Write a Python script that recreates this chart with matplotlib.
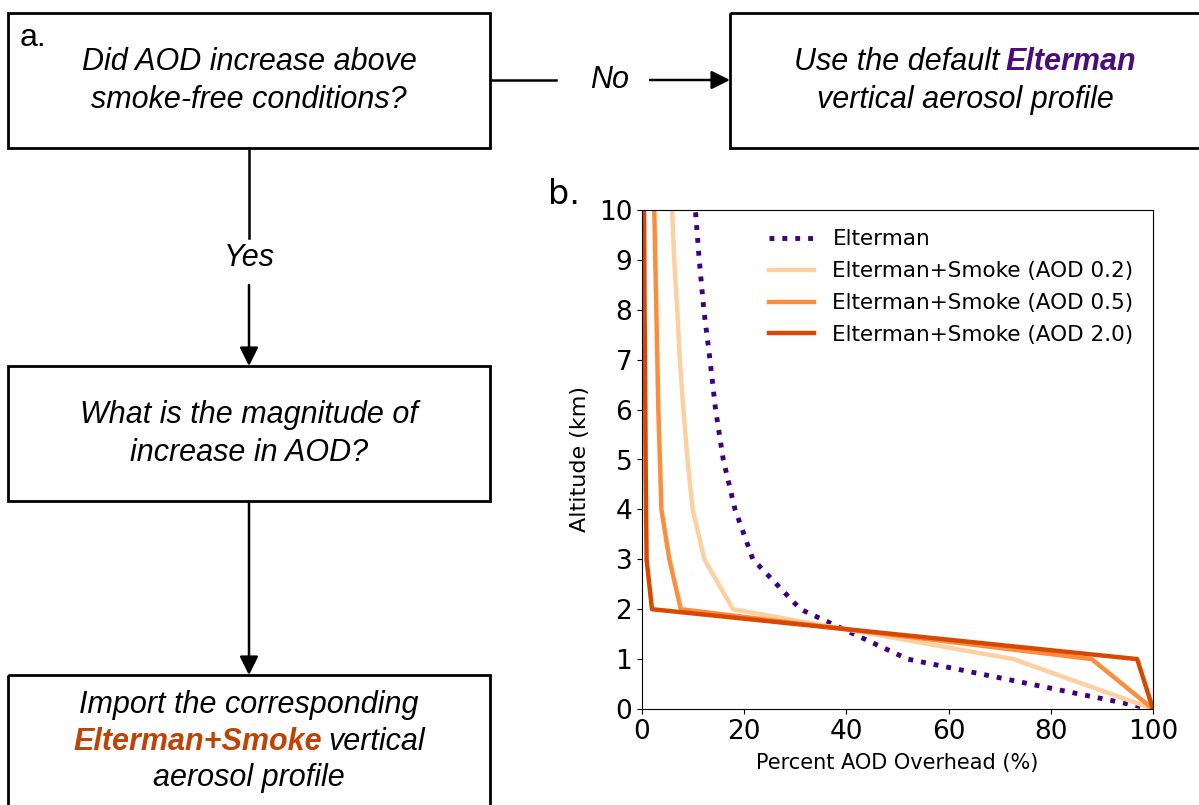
import matplotlib
matplotlib.use("Agg")
import matplotlib.pyplot as plt
from matplotlib.patches import Rectangle

# altitude levels (km) and percent AOD overhead for each profile
altitude = [0, 1, 2, 3, 4, 5, 6, 7, 8, 9, 10]
elterman = [100, 52, 31, 21.7, 18.2, 15.9, 14.4, 13.3, 12.1, 11.2, 10.45]
smoke_02 = [100, 72.7, 17.8, 12.2, 9.9, 8.9, 8.1, 7.4, 6.9, 6.3, 5.9]
smoke_05 = [100, 88, 7.6, 5.35, 3.8, 3.5, 3.2, 3.0, 2.8, 2.6, 2.4]
smoke_20 = [100, 96.9, 1.95, 0.9, 0.8, 0.7, 0.65, 0.6, 0.5, 0.45, 0.4]

labels = ["Elterman", "Elterman+Smoke (AOD 0.2)",
          "Elterman+Smoke (AOD 0.5)", "Elterman+Smoke (AOD 2.0)"]

purple = "#3f007d"
c_light = "#fdd0a2"
c_mid = "#fd8d3c"
c_dark = "#d94801"
txt_purple = "#4b0c7c"
txt_orange = "#bf4306"

W, H = 1199, 805
fig = plt.figure(figsize=(W / 100, H / 100), dpi=100)

# ---- flowchart layer, in pixel coordinates ----
fc = fig.add_axes([0, 0, 1, 1])
fc.set_xlim(0, W)
fc.set_ylim(H, 0)
fc.axis("off")

ffam = ["Liberation Sans", "DejaVu Sans"]
fs = 22

def box(x0, y0, x1, y1):
    fc.add_patch(Rectangle((x0, y0), x1 - x0, y1 - y0, fill=False,
                           ec="black", lw=2.0, clip_on=False))

box(8, 13, 490, 148)
box(730, 13, 1210, 148)
box(8, 366, 490, 501)
box(8, 675, 490, 830)

arrow = dict(arrowstyle="-|>", mutation_scale=28, lw=1.8, color="black",
             shrinkA=0, shrinkB=0)

# No branch
fc.plot([490, 556], [80, 80], color="black", lw=1.8)
fc.annotate("", xy=(730, 80), xytext=(650, 80), arrowprops=arrow)
fc.text(610, 80, "No", ha="center", va="center", fontsize=fs,
        style="italic", family=ffam)

# Yes branch
fc.plot([249, 249], [148, 238], color="black", lw=1.8)
fc.annotate("", xy=(249, 366), xytext=(249, 285), arrowprops=arrow)
fc.text(249, 258, "Yes", ha="center", va="center", fontsize=fs,
        style="italic", family=ffam)
fc.annotate("", xy=(249, 675), xytext=(249, 501), arrowprops=arrow)

fc.text(20, 38, "a.", ha="left", va="center", fontsize=23, family=ffam)

renderer = fig.canvas.get_renderer()

def rich_line(xc, y, pieces):
    # pieces: list of (text, color, weight); centered on xc
    objs = []
    gap = fs * 0.3
    for s, col, wt in pieces:
        t = fc.text(0, y, s, ha="left", va="center", fontsize=fs,
                    style="italic", weight=wt, color=col, family=ffam)
        objs.append(t)
    widths = [t.get_window_extent(renderer).width for t in objs]
    total = sum(widths) + gap * (len(objs) - 1)
    x = xc - total / 2
    for t, w in zip(objs, widths):
        t.set_x(x)
        x += w + gap

k = "black"
rich_line(249, 62, [("Did AOD increase above", k, "normal")])
rich_line(249, 100, [("smoke-free conditions?", k, "normal")])
rich_line(965, 62, [("Use the default", k, "normal"),
                    ("Elterman", txt_purple, "bold")])
rich_line(965, 100, [("vertical aerosol profile", k, "normal")])
rich_line(249, 415, [("What is the magnitude of", k, "normal")])
rich_line(249, 453, [("increase in AOD?", k, "normal")])
rich_line(249, 705, [("Import the corresponding", k, "normal")])
rich_line(249, 742, [("Elterman+Smoke", txt_orange, "bold"),
                     ("vertical", k, "normal")])
rich_line(249, 778, [("aerosol profile", k, "normal")])

# ---- profile plot ----
ax = fig.add_axes([642 / W, 1 - 709 / H, 511 / W, 499 / H])
ax.plot(elterman, altitude, color=purple, lw=3.5, ls=":", label=labels[0])
ax.plot(smoke_02, altitude, color=c_light, lw=3.2, label=labels[1])
ax.plot(smoke_05, altitude, color=c_mid, lw=3.2, label=labels[2])
ax.plot(smoke_20, altitude, color=c_dark, lw=3.2, label=labels[3])

ax.set_xlim(0, 100)
ax.set_ylim(0, 10)
ax.set_yticks(range(0, 11))
ax.set_xticks([0, 20, 40, 60, 80, 100])
ax.tick_params(labelsize=19)
ax.set_xlabel("Percent AOD Overhead (%)", fontsize=15, labelpad=6)
ax.set_ylabel("Altitude (km)", fontsize=16, labelpad=6)
ax.legend(loc="upper right", frameon=False, fontsize=15.5,
          handlelength=2.1, labelspacing=0.55, handletextpad=0.85)

fig.text(548 / W, 1 - 195 / H, "b.", ha="left", va="center", fontsize=24)

fig.savefig("out.png", dpi=100)
